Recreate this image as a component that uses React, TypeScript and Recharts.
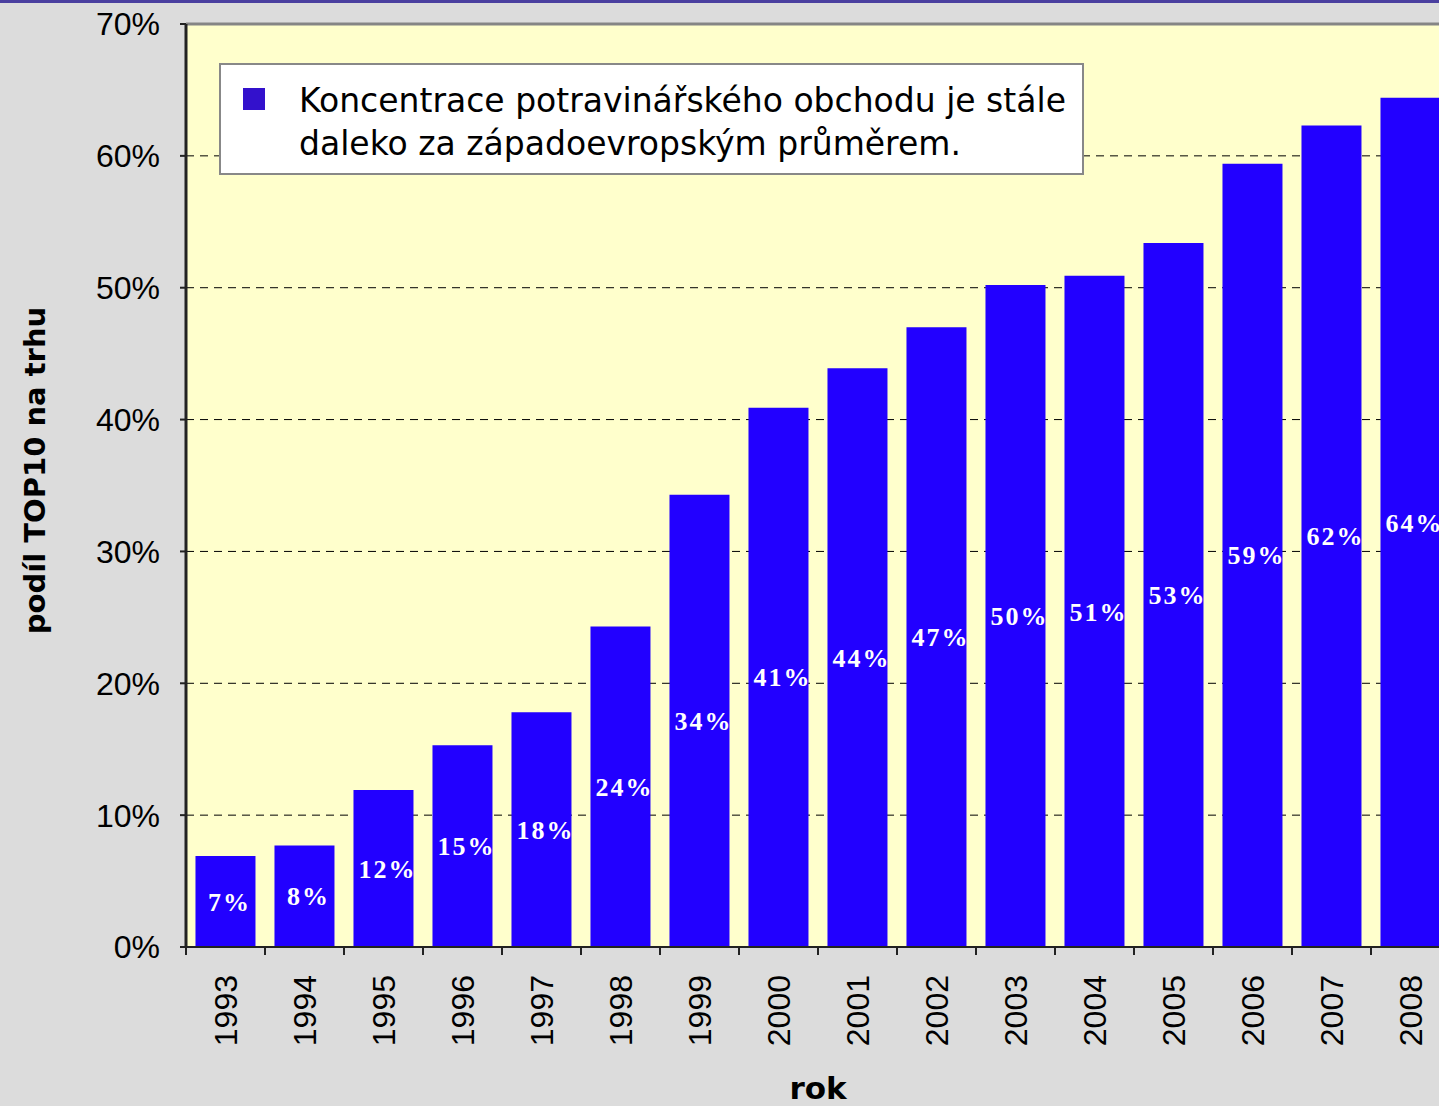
import React from 'react';
import { BarChart, Bar, CartesianGrid, XAxis, YAxis, LabelList, Legend, ReferenceLine } from 'recharts';

const years = ['1993', '1994', '1995', '1996', '1997', '1998', '1999', '2000', '2001', '2002', '2003', '2004', '2005', '2006', '2007', '2008'];
const shares = [6.9, 7.7, 11.9, 15.3, 17.8, 24.3, 34.3, 40.9, 43.9, 47.0, 50.2, 50.9, 53.4, 59.4, 62.3, 64.4];
const yTicks = [0, 10, 20, 30, 40, 50, 60, 70];
const legendLines = ['Koncentrace potravinářského obchodu je stále', 'daleko za západoevropským průměrem.'];
const yTitle = 'podíl TOP10 na trhu';
const xTitle = 'rok';

const data = years.map((year, i) => ({ year, share: shares[i] }));

const CHART_W = 1460;
const CHART_H = 1106;
const Y_AXIS_W = 186;
const MARGIN_RIGHT = 10;
const STEP = (CHART_W - Y_AXIS_W - MARGIN_RIGHT) / years.length;

const BAR_COLOR = '#2200ff';
const SANS = '"Liberation Sans", Arial, sans-serif';
const WIDE_SANS = '"DejaVu Sans", Verdana, sans-serif';

function YearTick(props: any): JSX.Element {
  const { x, y, payload } = props;
  const left = x - STEP / 2;
  const ty = y + 28;
  return (
    <g>
      <line x1={left} x2={left} y1={y} y2={y + 8} stroke="#222" strokeWidth={2} />
      <text
        x={x}
        y={ty}
        transform={`rotate(-90 ${x} ${ty})`}
        textAnchor="end"
        dy="0.36em"
        fill="#000"
        fontSize={32}
        fontFamily={SANS}
      >
        {payload.value}
      </text>
    </g>
  );
}

function BarValueLabel(props: any): JSX.Element | null {
  const box = props.viewBox ?? props;
  const { x, y, width, height } = box;
  const { value, index } = props;
  if (value == null) return null;
  const id = `bar-label-clip-${index}`;
  return (
    <g>
      <clipPath id={id}>
        <rect x={x} y={y} width={width} height={height} />
      </clipPath>
      <text
        x={x + width / 2 + 4}
        y={y + height / 2}
        dy="0.35em"
        textAnchor="middle"
        fill="#fff"
        fontSize={26}
        fontWeight="bold"
        letterSpacing={2}
        fontFamily='"Liberation Serif", "Times New Roman", serif'
        clipPath={`url(#${id})`}
      >
        {`${Math.round(Number(value))}%`}
      </text>
    </g>
  );
}

function LegendBox(): JSX.Element {
  return (
    <div
      style={{
        width: 865,
        height: 112,
        boxSizing: 'border-box',
        background: '#fff',
        border: '2px solid #888',
        position: 'relative',
        fontFamily: WIDE_SANS,
        fontSize: 33,
        color: '#000',
      }}
    >
      <div style={{ position: 'absolute', left: 22, top: 23, width: 22, height: 22, background: '#3311cc' }} />
      <div style={{ position: 'absolute', left: 78, top: 14, lineHeight: '43px', whiteSpace: 'nowrap' }}>
        {legendLines.map((line) => (
          <div key={line}>{line}</div>
        ))}
      </div>
    </div>
  );
}

export default function App(): JSX.Element {
  return (
    <div style={{ position: 'relative', width: 1439, height: 1106, overflow: 'hidden', background: '#dcdcdc' }}>
      <style>{'body{margin:0}'}</style>
      <div style={{ position: 'absolute', left: 0, top: 0, width: 1439, height: 3, background: '#4a3f9f', zIndex: 2 }} />
      <BarChart
        width={CHART_W}
        height={CHART_H}
        data={data}
        margin={{ top: 24, right: MARGIN_RIGHT, bottom: 0, left: 0 }}
        barCategoryGap="12%"
      >
        <CartesianGrid vertical={false} stroke="#000" strokeDasharray="8 6" fill="#ffffcc" fillOpacity={1} />
        <XAxis
          dataKey="year"
          height={159}
          interval={0}
          tickLine={false}
          tickSize={0}
          tickMargin={0}
          axisLine={{ stroke: '#222', strokeWidth: 2 }}
          tick={<YearTick />}
          label={{
            content: (p: any) => {
              const vb = p.viewBox;
              return (
                <text
                  x={vb.x + vb.width / 2}
                  y={vb.y + vb.height - 7}
                  textAnchor="middle"
                  fill="#000"
                  fontSize={31}
                  fontWeight="bold"
                  fontFamily={WIDE_SANS}
                >
                  {xTitle}
                </text>
              );
            },
          }}
        />
        <YAxis
          width={Y_AXIS_W}
          domain={[0, 70]}
          ticks={yTicks}
          interval={0}
          tickFormatter={(v: number) => `${v}%`}
          tickSize={6}
          tickMargin={20}
          tickLine={{ stroke: '#222', strokeWidth: 2 }}
          axisLine={{ stroke: '#222', strokeWidth: 3 }}
          tick={{ fill: '#000', fontSize: 32, fontFamily: SANS }}
          label={{
            content: (p: any) => {
              const vb = p.viewBox;
              const cx = vb.x + 35;
              const cy = vb.y + vb.height / 2 - 15;
              return (
                <text
                  x={cx}
                  y={cy}
                  transform={`rotate(-90 ${cx} ${cy})`}
                  textAnchor="middle"
                  dy="0.35em"
                  fill="#000"
                  fontSize={29}
                  fontWeight="bold"
                  fontFamily={WIDE_SANS}
                >
                  {yTitle}
                </text>
              );
            },
          }}
        />
        <ReferenceLine y={70} stroke="#858585" strokeWidth={3} />
        <Legend
          layout="vertical"
          align="center"
          verticalAlign="middle"
          content={() => <LegendBox />}
          wrapperStyle={{ position: 'absolute', left: 219, top: 63, width: 865, height: 112 }}
        />
        <Bar dataKey="share" fill={BAR_COLOR} isAnimationActive={false}>
          <LabelList dataKey="share" content={<BarValueLabel />} />
        </Bar>
      </BarChart>
    </div>
  );
}
